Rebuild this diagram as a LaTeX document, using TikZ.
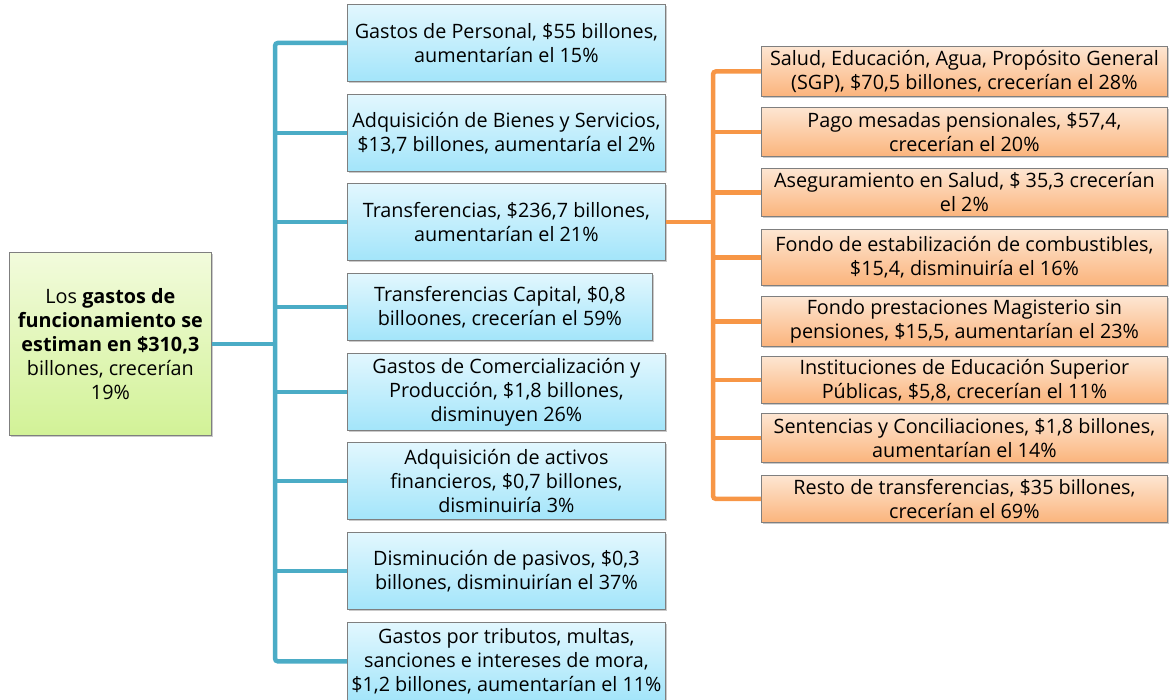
\documentclass[tikz,border=0pt]{standalone}
\usepackage{fontspec}
\setmainfont{Open Sans}
\usetikzlibrary{shadows}
\definecolor{bluel}{HTML}{4BACC6}
\definecolor{orangel}{HTML}{F79646}
\definecolor{bluetop}{HTML}{E2F7FE}
\definecolor{bluebot}{HTML}{A3E5FA}
\definecolor{orgtop}{HTML}{FDE6D2}
\definecolor{orgbot}{HTML}{FBB47C}
\definecolor{grntop}{HTML}{F2FBDC}
\definecolor{grnbot}{HTML}{D2F297}
\definecolor{edge}{HTML}{7F7F7F}
\tikzset{
  basebox/.style={draw=edge, line width=0.8pt, anchor=north west, align=center,
    inner sep=0.5pt, font=\fontsize{19.8}{24}\selectfont, text=black,
    drop shadow={shadow xshift=2pt, shadow yshift=-2pt, opacity=0.35, fill=black!60}},
  bluebox/.style={basebox, top color=bluetop, bottom color=bluebot},
  orgbox/.style={basebox, top color=orgtop, bottom color=orgbot},
  grnbox/.style={basebox, top color=grntop, bottom color=grnbot},
  bline/.style={draw=bluel, line width=4.5pt, rounded corners=3pt},
  oline/.style={draw=orangel, line width=4.5pt, rounded corners=3pt}
}
\begin{document}
\begin{tikzpicture}[x=1pt,y=-1pt]
\useasboundingbox (0,0) rectangle (1169,700);
% connectors' anchors
\coordinate (bt) at (275,0);
\coordinate (ot) at (713,0);
% green root
\node[grnbox, minimum width=202, minimum height=183] (g) at (9,252)
  {Los \textbf{gastos de}\\\textbf{funcionamiento se}\\\textbf{estiman en \$310,3}\\billones, crecerían\\19\%};
% blue boxes
\node[bluebox, minimum width=318, minimum height=77] (b1) at (347,4)
  {Gastos de Personal, \$55 billones,\\aumentarían el 15\%};
\node[bluebox, minimum width=318, minimum height=77] (b2) at (347,94)
  {Adquisición de Bienes y Servicios,\\\$13,7 billones, aumentaría el 2\%};
\node[bluebox, minimum width=318, minimum height=77] (b3) at (347,183)
  {Transferencias, \$236,7 billones,\\aumentarían el 21\%};
\node[bluebox, minimum width=305, minimum height=67] (b4) at (347,273)
  {Transferencias Capital, \$0,8\\billoones, crecerían el 59\%};
\node[bluebox, minimum width=318, minimum height=77] (b5) at (347,353)
  {Gastos de Comercialización y\\Producción, \$1,8 billones,\\disminuyen 26\%};
\node[bluebox, minimum width=318, minimum height=77] (b6) at (347,442)
  {Adquisición de activos\\financieros, \$0,7 billones,\\disminuiría 3\%};
\node[bluebox, minimum width=318, minimum height=77] (b7) at (347,532)
  {Disminución de pasivos, \$0,3\\billones, disminuirían el 37\%};
\node[bluebox, minimum width=318, minimum height=78] (b8) at (347,622)
  {Gastos por tributos, multas,\\sanciones e intereses de mora,\\\$1,2 billones, aumentarían el 11\%};
% orange boxes
\node[orgbox, minimum width=406, minimum height=50] (o1) at (761,46)
  {Salud, Educación, Agua, Propósito General\\(SGP), \$70,5 billones, crecerían el 28\%};
\node[orgbox, minimum width=406, minimum height=49] (o2) at (761,107)
  {Pago mesadas pensionales, \$57,4,\\crecerían el 20\%};
\node[orgbox, minimum width=406, minimum height=48] (o3) at (761,168)
  {Aseguramiento en Salud, \$ 35,3 crecerían\\el 2\%};
\node[orgbox, minimum width=406, minimum height=56] (o4) at (761,229)
  {Fondo de estabilización de combustibles,\\\$15,4, disminuiría el 16\%};
\node[orgbox, minimum width=406, minimum height=50] (o5) at (761,296)
  {Fondo prestaciones Magisterio sin\\pensiones, \$15,5, aumentarían el 23\%};
\node[orgbox, minimum width=406, minimum height=47] (o6) at (761,356)
  {Instituciones de Educación Superior\\Públicas, \$5,8, crecerían el 11\%};
\node[orgbox, minimum width=406, minimum height=49] (o7) at (761,413)
  {Sentencias y Conciliaciones, \$1,8 billones,\\aumentarían el 14\%};
\node[orgbox, minimum width=406, minimum height=47] (o8) at (761,475)
  {Resto de transferencias, \$35 billones,\\crecerían el 69\%};
% connectors
\draw[bline] (b1.west) -- (b1.west -| bt) -- (b8.west -| bt) -- (b8.west);
\foreach \i in {2,...,7} \draw[bline, rounded corners=0pt] (b\i.west -| bt) -- (b\i.west);
\draw[bline, rounded corners=0pt] (g.east) -- (g.east -| bt);
\draw[oline] (o1.west) -- (o1.west -| ot) -- (o8.west -| ot) -- (o8.west);
\foreach \i in {2,...,7} \draw[oline, rounded corners=0pt] (o\i.west -| ot) -- (o\i.west);
\draw[oline, rounded corners=0pt] (b3.east) -- (b3.east -| ot);
\end{tikzpicture}
\end{document}
